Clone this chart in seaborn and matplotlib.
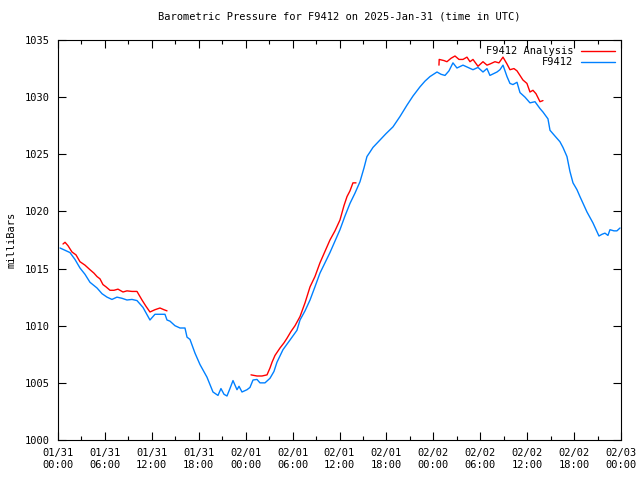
import numpy as np
import pandas as pd
import seaborn as sns
import matplotlib
matplotlib.use("Agg")
import matplotlib.pyplot as plt
from matplotlib.ticker import MultipleLocator

# hours since 2025-01-31 00:00 UTC, pressure in mb
obs_hours = [0.26, 0.9, 1.53, 2.17, 2.81, 3.45, 4.09, 4.99, 5.63, 6.27, 6.9, 7.54, 8.18, 8.82,
             9.46, 10.1, 10.87, 11.76, 12.4, 13.04, 13.68, 13.94, 14.32, 14.96, 15.6, 16.24,
             16.5, 16.88, 17.52, 18.16, 19.05, 19.82, 20.46, 20.84, 21.23, 21.61, 21.99, 22.38,
             22.89, 23.15, 23.53, 24.17, 24.55, 24.94, 25.45, 25.83, 26.47, 27.11, 27.62, 28.0,
             28.77, 29.67, 30.56, 30.95, 31.59, 32.23, 32.86, 33.5, 34.14, 34.78, 35.42, 36.06,
             36.7, 37.34, 37.98, 38.62, 39.13, 39.51, 39.9, 40.28, 41.18, 41.94, 42.84, 43.73,
             44.63, 45.4, 46.29, 46.93, 47.57, 48.47, 48.98, 49.49, 50.0, 50.51, 51.02, 51.79,
             52.43, 53.07, 53.71, 54.35, 54.86, 55.24, 56.14, 56.52, 56.91, 57.42, 57.8, 58.18,
             58.7, 59.08, 59.72, 60.36, 61.0, 61.64, 62.02, 62.66, 62.92, 63.55, 64.19, 64.58,
             65.09, 65.47, 65.86, 66.37, 66.75, 67.65, 68.41, 69.18, 69.57, 69.95, 70.33, 70.59,
             71.1, 71.48, 71.87]
obs_mb = [1016.8, 1016.6, 1016.4, 1015.8, 1015.05, 1014.5, 1013.8, 1013.3, 1012.8, 1012.5,
          1012.3, 1012.5, 1012.4, 1012.25, 1012.3, 1012.2, 1011.6, 1010.5, 1011.0, 1011.0,
          1011.0, 1010.5, 1010.4, 1010.0, 1009.8, 1009.8, 1009.0, 1008.8, 1007.6, 1006.6,
          1005.5, 1004.2, 1003.9, 1004.5, 1004.0, 1003.85, 1004.5, 1005.2, 1004.4, 1004.7,
          1004.2, 1004.4, 1004.6, 1005.25, 1005.3, 1005.0, 1005.0, 1005.4, 1006.0, 1006.8,
          1007.9, 1008.75, 1009.6, 1010.5, 1011.3, 1012.25, 1013.4, 1014.6, 1015.5, 1016.4,
          1017.4, 1018.4, 1019.6, 1020.7, 1021.6, 1022.6, 1023.8, 1024.8, 1025.2, 1025.6,
          1026.25, 1026.8, 1027.4, 1028.3, 1029.3, 1030.1, 1030.9, 1031.4, 1031.8, 1032.2,
          1032.0, 1031.9, 1032.3, 1033.0, 1032.55, 1032.8, 1032.6, 1032.4, 1032.6, 1032.2,
          1032.5, 1031.9, 1032.2, 1032.4, 1032.8, 1031.8, 1031.2, 1031.1, 1031.3, 1030.4,
          1030.0, 1029.5, 1029.6, 1029.0, 1028.7, 1028.1, 1027.1, 1026.6, 1026.1, 1025.6,
          1024.8, 1023.5, 1022.5, 1021.9, 1021.3, 1019.95, 1019.0, 1017.85, 1018.0, 1018.1,
          1017.9, 1018.4, 1018.3, 1018.3, 1018.55]

# analysis comes in three separate pieces
ana1_hours = [0.64, 0.9, 1.28, 1.79, 2.3, 2.81, 3.45, 4.09, 4.6, 4.99, 5.37, 5.75, 6.14, 6.65,
              7.16, 7.67, 8.31, 8.82, 9.46, 10.1, 10.74, 11.25, 11.76, 12.4, 13.04, 13.55, 13.94]
ana1_mb = [1017.15, 1017.3, 1017.0, 1016.45, 1016.2, 1015.6, 1015.3, 1014.9, 1014.6, 1014.3,
           1014.1, 1013.6, 1013.4, 1013.1, 1013.1, 1013.2, 1012.95, 1013.05, 1013.0, 1013.0,
           1012.25, 1011.7, 1011.2, 1011.4, 1011.55, 1011.4, 1011.3]
ana2_hours = [24.68, 25.45, 26.09, 26.73, 27.11, 27.37, 27.75, 28.39, 28.9, 29.28, 29.8, 30.31,
              30.95, 31.59, 32.23, 32.86, 33.5, 34.14, 34.78, 35.42, 36.06, 36.57, 36.96, 37.34,
              37.72, 38.11]
ana2_mb = [1005.7, 1005.6, 1005.6, 1005.7, 1006.3, 1006.8, 1007.4, 1008.05, 1008.5, 1008.9,
           1009.5, 1010.0, 1010.8, 1012.0, 1013.4, 1014.3, 1015.5, 1016.5, 1017.5, 1018.3,
           1019.25, 1020.5, 1021.3, 1021.8, 1022.5, 1022.5]
ana3_hours = [48.72, 48.75, 49.36, 49.74, 50.26, 50.77, 51.28, 51.79, 52.3, 52.69, 53.07, 53.71,
              54.35, 54.86, 55.24, 55.88, 56.39, 56.91, 57.42, 57.8, 58.31, 58.7, 59.08, 59.46,
              59.97, 60.36, 60.74, 61.13, 61.64, 62.02]
ana3_mb = [1032.8, 1033.3, 1033.2, 1033.1, 1033.4, 1033.6, 1033.3, 1033.3, 1033.5, 1033.1,
           1033.3, 1032.7, 1033.1, 1032.8, 1032.9, 1033.1, 1033.0, 1033.5, 1032.9, 1032.4,
           1032.5, 1032.3, 1031.9, 1031.5, 1031.2, 1030.45, 1030.6, 1030.3, 1029.6, 1029.7]

tick_hours = list(range(0, 73, 6))
tick_labels = ["01/31\n00:00", "01/31\n06:00", "01/31\n12:00", "01/31\n18:00",
               "02/01\n00:00", "02/01\n06:00", "02/01\n12:00", "02/01\n18:00",
               "02/02\n00:00", "02/02\n06:00", "02/02\n12:00", "02/02\n18:00",
               "02/03\n00:00"]

sns.set_style("ticks")
plt.rcParams['font.family'] = ['DejaVu Sans Mono']
plt.rcParams['text.color'] = 'black'
plt.rcParams['axes.labelcolor'] = 'black'
plt.rcParams['xtick.color'] = 'black'
plt.rcParams['ytick.color'] = 'black'

fig = plt.figure(figsize=(6.4, 4.8), dpi=100)
ax = fig.add_axes([58/640, 40/480, 563/640, 400/480])

red = "#ff0000"
blue = "#0080ff"
segs = [(ana1_hours, ana1_mb), (ana2_hours, ana2_mb), (ana3_hours, ana3_mb)]
for i, (h, p) in enumerate(segs):
    sns.lineplot(x=h, y=p, ax=ax, color=red, linewidth=1,
                 label="F9412 Analysis" if i == 0 else None)
sns.lineplot(x=obs_hours, y=obs_mb, ax=ax, color=blue, linewidth=1, label="F9412")

ax.set_xlim(0, 72)
ax.set_ylim(1000, 1035)
ax.set_xticks(tick_hours)
ax.set_xticklabels(tick_labels)
ax.xaxis.set_minor_locator(MultipleLocator(3))
ax.set_yticks(range(1000, 1036, 5))
ax.tick_params(which="both", direction="in", top=True, right=True, labelsize=7.5,
               width=0.8, color="black", labelcolor="black", pad=6)
ax.tick_params(which="major", length=6)
ax.tick_params(which="minor", length=3)
for s in ax.spines.values():
    s.set_linewidth(0.8)
    s.set_color("black")

ax.set_xlabel("")
ax.set_ylabel("milliBars", fontsize=7.5, labelpad=6, color="black")
ax.set_title("Barometric Pressure for F9412 on 2025-Jan-31 (time in UTC)", fontsize=7.5,
             pad=15, color="black")

leg = ax.legend(loc="upper right", frameon=False, markerfirst=False, fontsize=7.5,
                handlelength=3.2, borderaxespad=0.2, labelspacing=0.1, handletextpad=0.8)
for t in leg.get_texts():
    t.set_ha("right")
    t.set_color("black")

fig.savefig("out.png", dpi=100)
